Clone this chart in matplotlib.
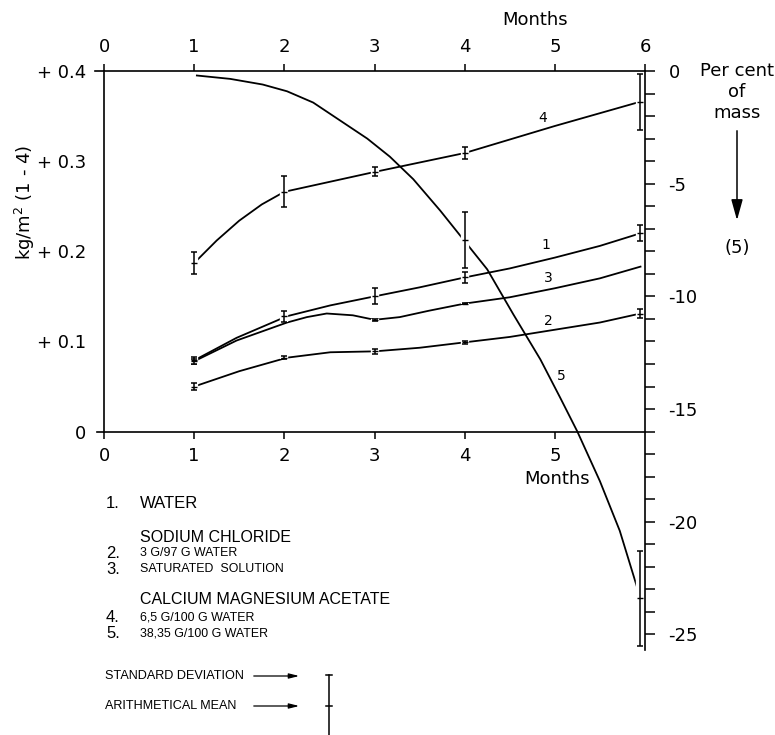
import numpy as np
import matplotlib.pyplot as plt
import matplotlib.patheffects as pe
from matplotlib.lines import Line2D

# traced curves (months, kg/m2)
water_x = [1, 1.47, 2.03, 2.51, 3, 3.5, 4, 4.5, 5, 5.5, 5.95]
water_y = [0.079, 0.104, 0.128, 0.140, 0.150, 0.160, 0.171, 0.181, 0.193, 0.206, 0.220]

nacl3g_x = [1, 1.5, 2.03, 2.51, 3, 3.5, 4, 4.5, 5, 5.5, 5.95]
nacl3g_y = [0.050, 0.067, 0.082, 0.088, 0.089, 0.093, 0.099, 0.105, 0.113, 0.121, 0.131]

naclsat_x = [1, 1.47, 2.03, 2.25, 2.47, 2.76, 3, 3.28, 3.6, 4, 4.5, 5, 5.5, 5.95]
naclsat_y = [0.078, 0.101, 0.121, 0.127, 0.131, 0.129, 0.124, 0.127, 0.134, 0.142, 0.149, 0.159, 0.170, 0.183]

cma65_x = [1, 1.25, 1.5, 1.75, 2, 3, 4, 5, 5.95]
cma65_y = [0.187, 0.212, 0.234, 0.252, 0.266, 0.288, 0.309, 0.339, 0.366]

# curve 5 is on the right axis, percent of mass
cma38_x = [1.03, 1.4, 1.76, 2.03, 2.32, 2.62, 2.92, 3.17, 3.43, 3.73, 3.97, 4.25,
           4.54, 4.84, 5.06, 5.25, 5.5, 5.72, 5.95]
cma38_pct = [-0.2, -0.35, -0.6, -0.9, -1.4, -2.2, -3.0, -3.8, -4.8, -6.2, -7.4, -8.8,
             -10.8, -12.8, -14.5, -16.0, -18.2, -20.4, -23.4]

# means and standard deviations at the sampling dates
bar_months = [1, 2, 3, 4, 5.95]
water_mean = [0.079, 0.128, 0.150, 0.171, 0.220]
water_sd = [0.004, 0.006, 0.009, 0.006, 0.009]
nacl3g_mean = [0.050, 0.082, 0.089, 0.099, 0.131]
nacl3g_sd = [0.004, 0.002, 0.003, 0.002, 0.005]
cma65_mean = [0.187, 0.266, 0.288, 0.309, 0.366]
cma65_sd = [0.012, 0.017, 0.005, 0.007, 0.031]
naclsat_months = [1, 3, 4]
naclsat_mean = [0.078, 0.124, 0.142]
naclsat_sd = [0.003, 0.001, 0.001]
cma38_months = [4, 5.95]
cma38_mean = [-7.5, -23.4]
cma38_sd = [1.25, 2.1]

W, H = 775, 735


def fx(px):
    return px / W


def fy(py):
    return 1 - py / H


TICKFONT = dict(family='DejaVu Sans', size=13)
LEGFONT = 'Liberation Sans'

fig = plt.figure(figsize=(W / 100, H / 100), dpi=100)
ax = fig.add_axes([fx(104), fy(675), (645 - 104) / W, (675 - 71) / H])
ax.set_xlim(0, 6)
ax.set_ylim(-0.27, 0.4)
ax2 = ax.twinx()
ax2.set_ylim((-0.27 - 0.4) * 40, 0)

lw = 1.3
ebkw = dict(fmt='_', color='black', ms=5, elinewidth=1.1, capsize=2.5, capthick=1.1, zorder=2.2)
gap = [pe.Stroke(linewidth=6, foreground='white'), pe.Normal()]


def bars(a, x, m, sd):
    eb = a.errorbar(x, m, yerr=sd, **ebkw)
    for col in eb[2]:
        col.set_path_effects(gap)


ax.plot(water_x, water_y, color='black', lw=lw)
ax.plot(nacl3g_x, nacl3g_y, color='black', lw=lw)
ax.plot(naclsat_x, naclsat_y, color='black', lw=lw)
ax.plot(cma65_x, cma65_y, color='black', lw=lw)
ax2.plot(cma38_x, cma38_pct, color='black', lw=lw)
bars(ax, bar_months, water_mean, water_sd)
bars(ax, bar_months, nacl3g_mean, nacl3g_sd)
bars(ax, bar_months, cma65_mean, cma65_sd)
bars(ax, naclsat_months, naclsat_mean, naclsat_sd)
bars(ax2, cma38_months, cma38_mean, cma38_sd)

# curve numbers
for x, y, s in [(4.87, 0.348, '4'), (4.9, 0.207, '1'), (4.93, 0.170, '3'),
                (4.93, 0.123, '2'), (5.07, 0.062, '5')]:
    ax.text(x, y, s, ha='center', va='center', fontsize=10, family='DejaVu Sans')

# left / bottom axes
ax.spines['right'].set_visible(False)
ax.spines['left'].set_bounds(0, 0.4)
ax.spines['bottom'].set_position(('data', 0))
ax.spines['bottom'].set_bounds(-0.08, 6)
ax.spines['top'].set_bounds(-0.1, 6)
for s in ['left', 'top', 'bottom']:
    ax.spines[s].set_linewidth(1.2)
ax.set_xticks(range(6))
ax.set_xticklabels([str(i) for i in range(6)], **TICKFONT)
ax.tick_params(axis='x', direction='out', length=5, width=1.1, pad=6)
ax.set_yticks([0, 0.1, 0.2, 0.3, 0.4])
ax.set_yticklabels(['0', '+ 0.1', '+ 0.2', '+ 0.3', '+ 0.4'], **TICKFONT)
ax.tick_params(axis='y', direction='out', length=0, pad=13)

# top months axis
top = ax.secondary_xaxis('top')
top.spines['top'].set_visible(False)
top.set_xticks(range(7))
top.set_xticklabels([str(i) for i in range(7)], **TICKFONT)
top.tick_params(direction='out', length=5, width=1.1, pad=6)

# right percent axis
for s in ['left', 'top', 'bottom']:
    ax2.spines[s].set_visible(False)
ax2.spines['right'].set_bounds(-25.7, 0)
ax2.spines['right'].set_linewidth(1.2)
ax2.set_yticks(range(0, -30, -5))
ax2.set_yticklabels(['0', '-5', '-10', '-15', '-20', '-25'], **TICKFONT)
ax2.set_yticks(range(-25, 0), minor=True)
ax2.tick_params(axis='y', which='both', direction='out', length=7, width=1.1, pad=10)

# axis titles
fig.text(fx(535), fy(20), 'Months', ha='center', va='center', **TICKFONT)
fig.text(fx(557), fy(479), 'Months', ha='center', va='center', **TICKFONT)
fig.text(fx(25), fy(202), 'kg/m$^2$ (1 - 4)', rotation=90, ha='center', va='center', **TICKFONT)
fig.text(fx(737), fy(92), 'Per cent\nof\nmass', ha='center', va='center',
         linespacing=1.25, **TICKFONT)
ax.annotate('', xy=(fx(737), fy(223)), xytext=(fx(737), fy(128)),
            xycoords='figure fraction', textcoords='figure fraction',
            arrowprops=dict(arrowstyle='-|>,head_width=0.25,head_length=0.9',
                            color='black', lw=1.1, mutation_scale=14))
fig.text(fx(737), fy(248), '(5)', ha='center', va='center', **TICKFONT)

# key
big, num, small = 11.5, 12, 8.9
fig.text(fx(106), fy(504), '1.', fontsize=num, family=LEGFONT, va='center')
fig.text(fx(140), fy(504), 'WATER', fontsize=12, family=LEGFONT, va='center')
fig.text(fx(140), fy(537), 'SODIUM CHLORIDE', fontsize=big, family=LEGFONT, va='center')
fig.text(fx(106), fy(553), '2.', fontsize=num, family=LEGFONT, va='center')
fig.text(fx(140), fy(553), '3 G/97 G WATER', fontsize=small, family=LEGFONT, va='center')
fig.text(fx(106), fy(569), '3.', fontsize=num, family=LEGFONT, va='center')
fig.text(fx(140), fy(569), 'SATURATED  SOLUTION', fontsize=small, family=LEGFONT, va='center')
fig.text(fx(140), fy(600), 'CALCIUM MAGNESIUM ACETATE', fontsize=big, family=LEGFONT, va='center')
fig.text(fx(106), fy(617), '4.', fontsize=num, family=LEGFONT, va='center')
fig.text(fx(140), fy(617), '6,5 G/100 G WATER', fontsize=small, family=LEGFONT, va='center')
fig.text(fx(106), fy(633), '5.', fontsize=num, family=LEGFONT, va='center')
fig.text(fx(140), fy(633), '38,35 G/100 G WATER', fontsize=small, family=LEGFONT, va='center')

fig.text(fx(105), fy(676), 'STANDARD DEVIATION', fontsize=9.1, family=LEGFONT, va='center')
fig.text(fx(105), fy(706), 'ARITHMETICAL MEAN', fontsize=9.1, family=LEGFONT, va='center')
for py in [676, 706]:
    ax.annotate('', xy=(fx(302), fy(py)), xytext=(fx(251), fy(py)),
                xycoords='figure fraction', textcoords='figure fraction',
                arrowprops=dict(arrowstyle='-|>,head_width=0.15,head_length=0.6',
                                color='black', lw=0.9, mutation_scale=10))
for xs, ys in [([329, 329], [675, 735]), ([326, 332], [675, 675]), ([326, 332], [706, 706])]:
    fig.add_artist(Line2D([fx(v) for v in xs], [fy(v) for v in ys],
                          transform=fig.transFigure, color='black', lw=1.1))

fig.savefig('out.png', dpi=100)
